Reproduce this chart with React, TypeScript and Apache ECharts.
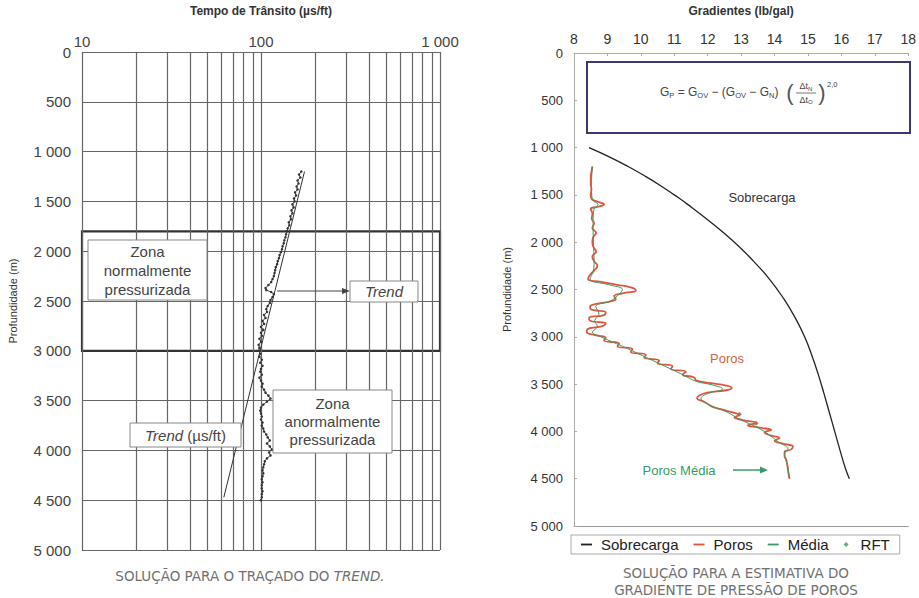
import React, { useEffect, useRef } from "react";
import * as echarts from "echarts";

// ---------- Left chart data ----------
const leftGridTimes = [10, 20, 30, 40, 50, 60, 70, 80, 90, 100, 200, 300, 400, 500, 600, 700, 800, 900, 1000];
const transitDepth = [
  1200, 1230, 1260, 1290, 1320, 1350, 1380, 1410, 1440, 1470, 1500, 1530, 1560, 1590, 1620, 1650, 1680, 1710, 1740, 1770,
  1800, 1830, 1860, 1890, 1920, 1950, 1980, 2010, 2040, 2070, 2100, 2130, 2160, 2190, 2220, 2250, 2280, 2310, 2340, 2370,
  2390, 2410, 2430, 2460, 2490, 2520, 2550, 2580, 2610, 2640, 2670, 2700, 2730, 2760, 2790, 2820, 2850, 2880, 2910, 2940,
  2970, 3000, 3030, 3060, 3090, 3120, 3150, 3180, 3210, 3240, 3270, 3300, 3330, 3360, 3390, 3420, 3450, 3480, 3510, 3540,
  3570, 3600, 3630, 3660, 3690, 3720, 3750, 3780, 3810, 3840, 3870, 3900, 3930, 3960, 3990, 4020, 4050, 4080, 4110, 4140,
  4170, 4200, 4230, 4260, 4290, 4320, 4350, 4380, 4410, 4440, 4470, 4500,
];
const transitTime = [
  168, 163, 166, 160, 162, 158, 160, 155, 157, 153, 154, 150, 152, 148, 150, 146, 147, 143, 144, 141,
  140, 138, 137, 135, 134, 132, 131, 129, 127, 126, 124, 123, 121, 120, 119, 118, 116, 114, 110, 106,
  107, 114, 118, 116, 113, 112, 109, 107, 108, 104, 106, 102, 104, 100, 103, 100, 101, 98, 100, 97,
  98, 97, 99, 98, 101, 99, 102, 100, 99, 101, 98, 100, 102, 101, 104, 106, 110, 113, 108, 103,
  100, 99, 100, 101, 100, 102, 101, 103, 104, 107, 109, 112, 108, 112, 115, 111, 113, 108, 105, 104,
  103, 102, 103, 102, 101, 102, 101, 101, 102, 101, 101, 100,
];
const trendDepth = [1200, 4470];
const trendTime = [175, 62];

// ---------- Right chart data ----------
const sobDepth = [1000, 1100, 1200, 1300, 1400, 1500, 1600, 1800, 2000, 2200, 2400, 2600, 2800, 3000, 3200, 3400, 3600, 3800, 4000, 4200, 4400, 4500];
const sobGrad = [8.45, 9.07, 9.62, 10.12, 10.58, 11.0, 11.4, 12.13, 12.8, 13.37, 13.87, 14.28, 14.62, 14.9, 15.12, 15.31, 15.48, 15.64, 15.8, 15.96, 16.13, 16.24];

const porosDepth = [
  1200, 1260, 1320, 1380, 1440, 1500, 1540, 1570, 1600, 1625, 1650, 1700, 1750, 1800, 1850, 1900, 1950, 2000, 2050, 2100,
  2150, 2200, 2250, 2300, 2350, 2390, 2420, 2450, 2480, 2510, 2540, 2570, 2600, 2625, 2650, 2680, 2710, 2740, 2770, 2800,
  2830, 2860, 2890, 2920, 2950, 2980, 3010, 3040, 3070, 3100, 3130, 3160, 3190, 3220, 3250, 3280, 3310, 3340, 3370, 3400,
  3430, 3460, 3490, 3515, 3540, 3565, 3590, 3620, 3650, 3680, 3710, 3740, 3770, 3800, 3825, 3850, 3880, 3910, 3935, 3960,
  3985, 4010, 4040, 4070, 4100, 4130, 4160, 4190, 4220, 4260, 4300, 4350, 4400, 4450, 4500,
];
const porosGrad = [
  8.55, 8.52, 8.5, 8.5, 8.52, 8.5, 8.52, 8.7, 8.9, 8.72, 8.5, 8.55, 8.53, 8.6, 8.55, 8.66, 8.57, 8.55, 8.58, 8.66,
  8.55, 8.6, 8.7, 8.6, 8.47, 8.42, 8.8, 9.3, 9.72, 9.85, 9.45, 9.2, 9.25, 9.1, 8.7, 8.48, 8.5, 8.95, 8.9, 8.45,
  8.48, 8.95, 8.82, 8.4, 8.38, 8.6, 8.95, 8.9, 9.35, 9.3, 9.75, 9.7, 10.15, 10.1, 10.55, 10.5, 10.95, 10.9, 11.35, 11.25,
  11.6, 11.65, 12.1, 12.55, 12.72, 12.55, 12.0, 11.75, 11.68, 11.85, 12.0, 12.15, 12.45, 12.75, 12.95, 12.8, 13.05, 13.45, 13.2, 13.55,
  13.9, 13.7, 13.85, 14.15, 14.0, 14.25, 14.55, 14.5, 14.3, 14.3, 14.35, 14.38, 14.4, 14.42, 14.45,
];

const mediaDepth = [1200, 1400, 1550, 1600, 1650, 1800, 2000, 2200, 2300, 2390, 2450, 2500, 2550, 2620, 2680, 2760, 2830, 2890, 2950, 3000, 3100, 3200, 3300, 3400, 3470, 3510, 3550, 3600, 3650, 3720, 3800, 3880, 3960, 4040, 4120, 4180, 4240, 4350, 4500];
const mediaGrad = [8.55, 8.52, 8.55, 8.72, 8.6, 8.57, 8.58, 8.6, 8.58, 8.48, 9.05, 9.45, 9.35, 9.1, 8.65, 8.75, 8.62, 8.7, 8.55, 8.8, 9.45, 10.05, 10.65, 11.25, 11.65, 12.15, 12.45, 12.0, 11.8, 12.05, 12.6, 13.0, 13.5, 13.85, 14.15, 14.4, 14.3, 14.38, 14.45];

const rftDepth = [3820, 3915];
const rftGrad = [12.95, 13.45];

const legendNames = ["Sobrecarga", "Poros", "Média", "RFT"];

const FONT = "'Liberation Sans', Arial, sans-serif";
const CAPFONT = "'DejaVu Sans', 'Noto Sans', sans-serif";

const fmtDepth = (v: number) =>
  v >= 1000 ? `${Math.floor(v / 1000)} ${String(v % 1000).padStart(3, "0")}` : String(v);

const DASH = "path://M0,0 L12,0 L12,2 L0,2 Z";
const DIAMOND = "path://M5,0 L10,5 L5,10 L0,5 Z";

export default function App() {
  const ref = useRef<HTMLDivElement>(null);
  useEffect(() => {
    if (!ref.current) return;
    const chart = echarts.init(ref.current, undefined, { renderer: "svg" });
    const pair = (xs: number[], ys: number[]) => xs.map((x, i) => [x, ys[i]]);

    const option: any = {
      animation: false,
      backgroundColor: "#fff",
      textStyle: { fontFamily: FONT },
      grid: [
        { left: 82, top: 52, width: 358, height: 498 },
        { left: 574, top: 51, width: 337, height: 475 },
      ],
      xAxis: [
        {
          type: "log",
          gridIndex: 0,
          position: "top",
          min: 10,
          max: 1000,
          logBase: 10,
          name: "Tempo de Trânsito (µs/ft)",
          nameLocation: "middle",
          nameGap: 35,
          nameTextStyle: { fontSize: 12, fontWeight: "bold", color: "#333", fontFamily: FONT },
          axisLine: { show: false },
          axisTick: { show: false },
          splitLine: { show: false },
          axisLabel: { fontSize: 15, color: "#444", margin: 3, formatter: (v: number) => fmtDepth(v) },
        },
        {
          type: "value",
          gridIndex: 1,
          position: "top",
          min: 8,
          max: 18,
          interval: 1,
          name: "Gradientes (lb/gal)",
          nameLocation: "middle",
          nameGap: 36,
          nameTextStyle: { fontSize: 12, fontWeight: "bold", color: "#333", fontFamily: FONT },
          axisLine: { show: true, lineStyle: { color: "#aaa", width: 1 } },
          axisTick: { show: true, inside: true, length: 3, lineStyle: { color: "#aaa" } },
          splitLine: { show: false },
          axisLabel: { fontSize: 14, color: "#333", margin: 7 },
        },
        {
          type: "value",
          gridIndex: 1,
          position: "bottom",
          min: 8,
          max: 18,
          interval: 1,
          axisLine: { show: true, lineStyle: { color: "#999", width: 1 } },
          axisTick: { show: false },
          axisLabel: { show: false },
          splitLine: { show: false },
        },
      ],
      yAxis: [
        {
          type: "value",
          gridIndex: 0,
          inverse: true,
          min: 0,
          max: 5000,
          interval: 500,
          name: "Profundidade (m)",
          nameLocation: "middle",
          nameGap: 64,
          nameTextStyle: { fontSize: 11, color: "#333", fontFamily: FONT },
          axisLine: { show: false },
          axisTick: { show: false },
          splitLine: { show: true, lineStyle: { color: "#666", width: 1.2 } },
          axisLabel: { fontSize: 15, color: "#444", margin: 11, formatter: fmtDepth },
        },
        {
          type: "value",
          gridIndex: 1,
          inverse: true,
          min: 0,
          max: 5000,
          interval: 500,
          name: "Profundidade (m)",
          nameLocation: "middle",
          nameGap: 62,
          nameTextStyle: { fontSize: 11, color: "#333", fontFamily: FONT },
          axisLine: { show: true, lineStyle: { color: "#aaa", width: 1 } },
          axisTick: { show: true, inside: true, length: 3, lineStyle: { color: "#aaa" } },
          splitLine: { show: false },
          axisLabel: { fontSize: 13, color: "#333", margin: 11, formatter: fmtDepth },
        },
      ],
      legend: {
        data: [
          { name: legendNames[0], icon: DASH },
          { name: legendNames[1], icon: DASH },
          { name: legendNames[2], icon: DASH },
          { name: legendNames[3], icon: DIAMOND },
        ],
        left: 571,
        top: 535,
        orient: "horizontal",
        borderColor: "#aaa",
        borderWidth: 1,
        padding: [2, 10, 2, 10],
        itemGap: 15,
        itemWidth: 11,
        itemHeight: 5,
        symbolKeepAspect: true,
        selectedMode: false,
        textStyle: { fontSize: 15, color: "#222", fontFamily: FONT, padding: [0, 0, 0, 4] },
      },
      series: [
        {
          name: "dados",
          type: "line",
          xAxisIndex: 0,
          yAxisIndex: 0,
          data: pair(transitTime, transitDepth),
          symbol: "circle",
          symbolSize: 2.5,
          showSymbol: true,
          itemStyle: { color: "#333" },
          lineStyle: { color: "#444", width: 1 },
          z: 5,
          markLine: {
            silent: true,
            symbol: ["none", "none"],
            label: { show: false },
            lineStyle: { color: "#666", width: 1.2, type: "solid" },
            data: leftGridTimes.map((v) => ({ xAxis: v })),
            z: 1,
          },
          markArea: {
            silent: true,
            itemStyle: { color: "rgba(0,0,0,0)", borderColor: "#333", borderWidth: 2.2 },
            data: [[{ xAxis: 10, yAxis: 1800 }, { xAxis: 1000, yAxis: 3000 }]],
          },
        },
        {
          name: "trend",
          type: "line",
          xAxisIndex: 0,
          yAxisIndex: 0,
          data: pair(trendTime, trendDepth),
          symbol: "none",
          lineStyle: { color: "#333", width: 1 },
          z: 4,
        },
        {
          name: "Sobrecarga",
          type: "line",
          xAxisIndex: 1,
          yAxisIndex: 1,
          data: pair(sobGrad, sobDepth),
          symbol: "none",
          smooth: 0.5,
          itemStyle: { color: "#222" },
          lineStyle: { color: "#222", width: 1.3 },
        },
        {
          name: "Poros",
          type: "line",
          xAxisIndex: 1,
          yAxisIndex: 1,
          data: pair(porosGrad, porosDepth),
          symbol: "none",
          smooth: 0.5,
          itemStyle: { color: "#e0563d" },
          lineStyle: { color: "#e0563d", width: 1.8 },
        },
        {
          name: "Média",
          type: "line",
          xAxisIndex: 1,
          yAxisIndex: 1,
          data: pair(mediaGrad, mediaDepth),
          symbol: "none",
          smooth: 0.4,
          itemStyle: { color: "#3f9a63" },
          lineStyle: { color: "#3f9a63", width: 1 },
        },
        {
          name: "RFT",
          type: "scatter",
          xAxisIndex: 1,
          yAxisIndex: 1,
          data: pair(rftGrad, rftDepth),
          symbol: "diamond",
          symbolSize: 5,
          itemStyle: { color: "#3a9a5a" },
        },
      ],
      graphic: {
        elements: [
          // Left annotations
          { type: "rect", z: 50, shape: { x: 88, y: 240, width: 119, height: 60 }, style: { fill: "#fff", stroke: "#888", lineWidth: 1 } },
          { type: "text", z: 51, x: 147.5, y: 270, style: { text: "Zona\nnormalmente\npressurizada", align: "center", verticalAlign: "middle", fontSize: 15, lineHeight: 19, fill: "#444", fontFamily: FONT } },
          { type: "line", z: 50, shape: { x1: 277, y1: 291, x2: 345, y2: 291 }, style: { stroke: "#444", lineWidth: 1 } },
          { type: "polygon", z: 50, shape: { points: [[350, 291], [342, 288], [342, 294]] }, style: { fill: "#444" } },
          { type: "rect", z: 50, shape: { x: 350, y: 281, width: 68, height: 21 }, style: { fill: "#fff", stroke: "#888", lineWidth: 1 } },
          { type: "text", z: 51, x: 384, y: 291.5, style: { text: "Trend", align: "center", verticalAlign: "middle", fontSize: 15, fontStyle: "italic", fill: "#444", fontFamily: FONT } },
          { type: "rect", z: 50, shape: { x: 273, y: 390, width: 119, height: 63 }, style: { fill: "#fff", stroke: "#888", lineWidth: 1 } },
          { type: "text", z: 51, x: 332.5, y: 421, style: { text: "Zona\nanormalmente\npressurizada", align: "center", verticalAlign: "middle", fontSize: 15, lineHeight: 18, fill: "#444", fontFamily: FONT } },
          { type: "rect", z: 50, shape: { x: 130, y: 423, width: 111, height: 24 }, style: { fill: "#fff", stroke: "#888", lineWidth: 1 } },
          {
            type: "text", z: 51, x: 185.5, y: 435,
            style: {
              text: "{i|Trend} (µs/ft)", align: "center", verticalAlign: "middle", fontSize: 15, fill: "#444", fontFamily: FONT,
              rich: { i: { fontStyle: "italic", fontSize: 15, fill: "#444", fontFamily: FONT } },
            },
          },
          {
            type: "text", z: 51, x: 250, y: 576,
            style: {
              text: "SOLUÇÃO PARA O TRAÇADO DO {i|TREND.}", align: "center", verticalAlign: "middle", fontSize: 13.5, fill: "#707070", fontFamily: CAPFONT,
              rich: { i: { fontStyle: "italic", fontSize: 13.5, fill: "#707070", fontFamily: CAPFONT } },
            },
          },
          // Right annotations
          { type: "rect", z: 50, shape: { x: 587, y: 62, width: 323, height: 71 }, style: { fill: "none", stroke: "#3f3870", lineWidth: 2 } },
          {
            type: "text", z: 51, x: 660, y: 92,
            style: {
              text: "G{s|P} = G{s|OV} − (G{s|OV} − G{s|N})", align: "left", verticalAlign: "middle", fontSize: 12, lineHeight: 15, fill: "#444", fontFamily: FONT,
              rich: { s: { fontSize: 7.5, verticalAlign: "bottom", lineHeight: 15, fill: "#444", fontFamily: FONT } },
            },
          },
          { type: "text", z: 51, x: 790, y: 92, style: { text: "(", align: "center", verticalAlign: "middle", fontSize: 22, fill: "#555", fontFamily: FONT } },
          {
            type: "text", z: 51, x: 806, y: 86,
            style: { text: "Δt{s|N}", align: "center", verticalAlign: "middle", fontSize: 9, lineHeight: 11, fill: "#444", fontFamily: FONT, rich: { s: { fontSize: 6, verticalAlign: "bottom", lineHeight: 11, fill: "#444" } } },
          },
          { type: "line", z: 51, shape: { x1: 796, y1: 93, x2: 816, y2: 93 }, style: { stroke: "#555", lineWidth: 0.8 } },
          {
            type: "text", z: 51, x: 806, y: 99.5,
            style: { text: "Δt{s|O}", align: "center", verticalAlign: "middle", fontSize: 9, lineHeight: 11, fill: "#444", fontFamily: FONT, rich: { s: { fontSize: 6, verticalAlign: "bottom", lineHeight: 11, fill: "#444" } } },
          },
          { type: "text", z: 51, x: 822, y: 92, style: { text: ")", align: "center", verticalAlign: "middle", fontSize: 22, fill: "#555", fontFamily: FONT } },
          { type: "text", z: 51, x: 827, y: 84, style: { text: "2,0", align: "left", verticalAlign: "middle", fontSize: 7.5, fill: "#444", fontFamily: FONT } },
          { type: "text", z: 51, x: 762, y: 197, style: { text: "Sobrecarga", align: "center", verticalAlign: "middle", fontSize: 13, fill: "#333", fontFamily: FONT } },
          { type: "text", z: 51, x: 727, y: 358, style: { text: "Poros", align: "center", verticalAlign: "middle", fontSize: 13, fill: "#d9603f", fontFamily: FONT } },
          { type: "text", z: 51, x: 679, y: 470, style: { text: "Poros Média", align: "center", verticalAlign: "middle", fontSize: 13, fill: "#3a9a66", fontFamily: FONT } },
          { type: "line", z: 51, shape: { x1: 733, y1: 470, x2: 761, y2: 470 }, style: { stroke: "#3a9a66", lineWidth: 1.5 } },
          { type: "polygon", z: 51, shape: { points: [[768, 470], [760, 466.5], [760, 473.5]] }, style: { fill: "#3a9a66" } },
          {
            type: "text", z: 51, x: 736, y: 573,
            style: { text: "SOLUÇÃO PARA A ESTIMATIVA DO", align: "center", verticalAlign: "middle", fontSize: 13.5, fill: "#707070", fontFamily: CAPFONT },
          },
          {
            type: "text", z: 51, x: 736, y: 590,
            style: { text: "GRADIENTE DE PRESSÃO DE POROS", align: "center", verticalAlign: "middle", fontSize: 13.5, fill: "#707070", fontFamily: CAPFONT },
          },
        ],
      },
    };
    chart.setOption(option);
    return () => chart.dispose();
  }, []);
  return <div ref={ref} style={{ width: 919, height: 598, position: "absolute", left: 0, top: 0 }} />;
}
